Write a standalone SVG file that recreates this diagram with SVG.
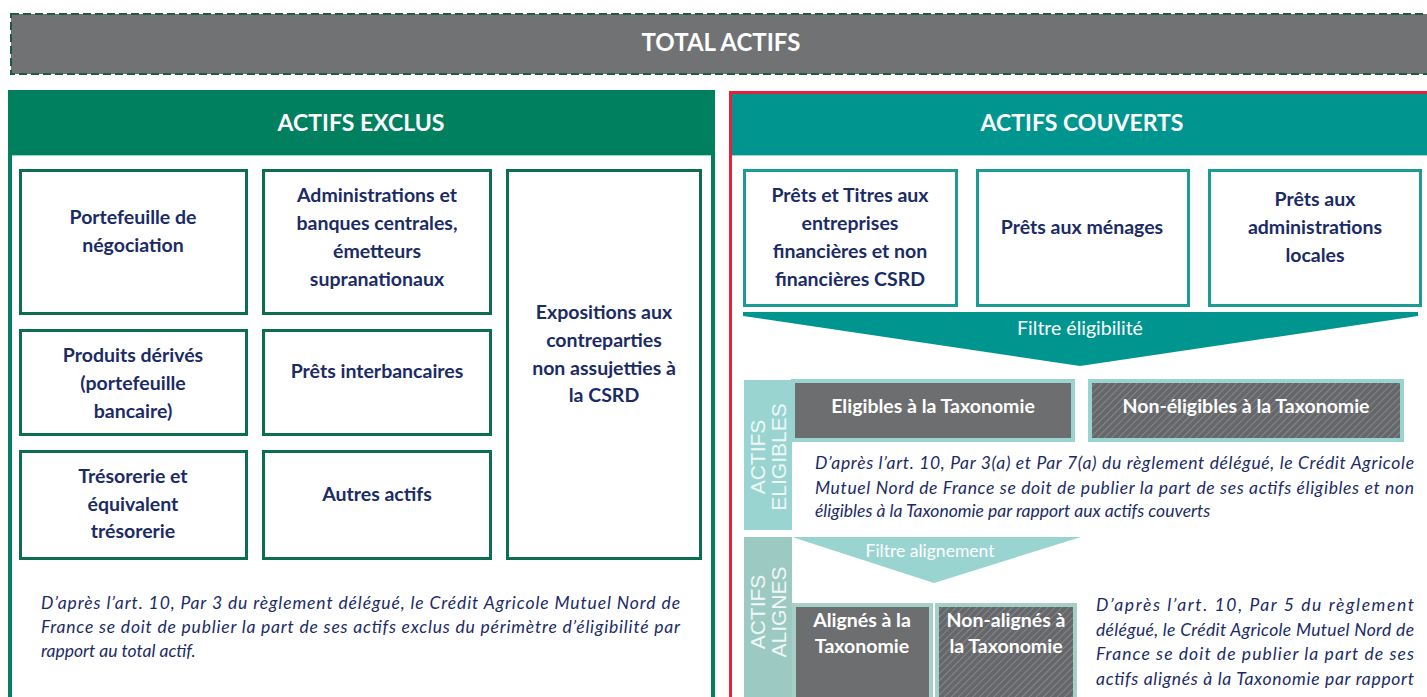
<svg xmlns="http://www.w3.org/2000/svg" width="1427" height="697" viewBox="0 0 1427 697">
<defs>
<pattern id="hatch" patternUnits="userSpaceOnUse" width="5" height="5" patternTransform="rotate(-45)">
<rect width="5" height="5" fill="#66676a"/>
<line x1="0" y1="0.5" x2="5" y2="0.5" stroke="#85868a" stroke-width="1"/>
</pattern>
<style>
.box{fill:#fff;stroke:#0d6d50;stroke-width:3}
.tbox{fill:#fff;stroke:#1a9c95;stroke-width:3}
.bt{font-family:Lato,'Liberation Sans',sans-serif;font-weight:bold;font-size:19.5px;fill:#1b2b66;text-anchor:middle}
.hd{font-family:Lato,'Liberation Sans',sans-serif;font-weight:bold;font-size:23px;fill:#fff;text-anchor:middle}
.wt{font-family:Lato,'Liberation Sans',sans-serif;font-weight:bold;font-size:19.5px;fill:#fff;text-anchor:middle}
.it{font-family:Lato,'Liberation Sans',sans-serif;font-style:italic;font-size:17.5px;fill:#1b2b66}
.vt{font-family:'Liberation Sans',Arial,sans-serif;font-size:21px;fill:#eef8f7;text-anchor:middle}
.ft{font-family:Lato,'Liberation Sans',sans-serif;font-size:19.5px;fill:#fff;text-anchor:middle}
</style>
</defs>
<rect width="1427" height="697" fill="#fff"/>

<g id="total">
<rect x="11" y="14" width="1430" height="60" fill="#717274" stroke="#1d5b41" stroke-width="2" stroke-dasharray="8,4"/>
<text class="hd" x="721" y="51" style="font-size:24px">TOTAL ACTIFS</text>
</g>

<g id="exclus">
<rect x="10" y="92" width="703" height="620" fill="#fff" stroke="#00805f" stroke-width="4"/>
<rect x="10" y="91" width="703" height="64" fill="#00805f"/>
<line x1="12" y1="155.5" x2="711" y2="155.5" stroke="#9fd3c4" stroke-width="1"/>
<text class="hd" x="361" y="131">ACTIFS EXCLUS</text>
</g>

<g id="portefeuille"><rect class="box" x="20.5" y="170.5" width="226" height="143"/>
<text class="bt" x="133" y="224">Portefeuille de</text><text class="bt" x="133" y="252">négociation</text></g>
<g id="administrations"><rect class="box" x="263.5" y="170.5" width="227" height="143"/>
<text class="bt" x="377" y="202">Administrations et</text><text class="bt" x="377" y="230">banques centrales,</text><text class="bt" x="377" y="258">émetteurs</text><text class="bt" x="377" y="286">supranationaux</text></g>
<g id="expositions"><rect class="box" x="507.5" y="170.5" width="193" height="388"/>
<text class="bt" x="604" y="319">Expositions aux</text><text class="bt" x="604" y="347">contreparties</text><text class="bt" x="604" y="375">non assujetties à</text><text class="bt" x="604" y="402">la CSRD</text></g>
<g id="derives"><rect class="box" x="20.5" y="330.5" width="226" height="104"/>
<text class="bt" x="133" y="362">Produits dérivés</text><text class="bt" x="133" y="390">(portefeuille</text><text class="bt" x="133" y="418">bancaire)</text></g>
<g id="interbancaires"><rect class="box" x="263.5" y="330.5" width="227" height="104"/>
<text class="bt" x="377" y="378">Prêts interbancaires</text></g>
<g id="tresorerie"><rect class="box" x="20.5" y="451.5" width="226" height="107"/>
<text class="bt" x="133" y="483">Trésorerie et</text><text class="bt" x="133" y="511">équivalent</text><text class="bt" x="133" y="538">trésorerie</text></g>
<g id="autres"><rect class="box" x="263.5" y="451.5" width="227" height="107"/>
<text class="bt" x="377" y="501">Autres actifs</text></g>

<g id="note-exclus">
<text class="it" x="41" y="609" textLength="639" lengthAdjust="spacing">D’après l’art. 10, Par 3 du règlement délégué, le Crédit Agricole Mutuel Nord de</text>
<text class="it" x="41" y="633" textLength="639" lengthAdjust="spacing">France se doit de publier la part de ses actifs exclus du périmètre d’éligibilité par</text>
<text class="it" x="41" y="657">rapport au total actif.</text>
</g>

<g id="couverts">
<rect x="730.5" y="92.5" width="710" height="620" fill="#fff" stroke="#e8203a" stroke-width="3"/>
<rect x="732" y="94" width="700" height="61" fill="#00968f"/>
<line x1="732" y1="155.5" x2="1427" y2="155.5" stroke="#9fd6d2" stroke-width="1"/>
<text class="hd" x="1082" y="131">ACTIFS COUVERTS</text>
</g>

<g id="prets-entreprises"><rect class="tbox" x="744.5" y="170.5" width="212" height="135"/>
<text class="bt" x="850" y="202">Prêts et Titres aux</text><text class="bt" x="850" y="230">entreprises</text><text class="bt" x="850" y="258">financières et non</text><text class="bt" x="850" y="286">financières CSRD</text></g>
<g id="prets-menages"><rect class="tbox" x="977.5" y="170.5" width="211" height="135"/>
<text class="bt" x="1082" y="234">Prêts aux ménages</text></g>
<g id="prets-admin"><rect class="tbox" x="1209.5" y="170.5" width="211" height="135"/>
<text class="bt" x="1315" y="206">Prêts aux</text><text class="bt" x="1315" y="234">administrations</text><text class="bt" x="1315" y="262">locales</text></g>

<g id="filtre-eligibilite">
<polygon points="743,312 1418,312 1418,316 1080,366 743,316" fill="#00968f"/>
<text class="ft" x="1080" y="335">Filtre éligibilité</text>
</g>

<g id="actifs-eligibles">
<rect x="744" y="380" width="48" height="150" fill="#9ad4d1"/>
<text class="vt" transform="translate(765,457) rotate(-90)">ACTIFS</text>
<text class="vt" transform="translate(786,457) rotate(-90)">ELIGIBLES</text>
</g>

<g id="eligibles"><rect x="793" y="381" width="280" height="59" fill="#6d6e70" stroke="#9ad4d1" stroke-width="4"/>
<text class="wt" x="933" y="413">Eligibles à la Taxonomie</text></g>
<g id="non-eligibles"><rect x="1090" y="381" width="312" height="59" fill="url(#hatch)" stroke="#9ad4d1" stroke-width="4"/>
<text class="wt" x="1246" y="413">Non-éligibles à la Taxonomie</text></g>

<g id="note-eligibles">
<text class="it" x="815" y="469" textLength="599" lengthAdjust="spacing">D’après l’art. 10, Par 3(a) et Par 7(a) du règlement délégué, le Crédit Agricole</text>
<text class="it" x="815" y="494" textLength="599" lengthAdjust="spacing">Mutuel Nord de France se doit de publier la part de ses actifs éligibles et non</text>
<text class="it" x="815" y="517">éligibles à la Taxonomie par rapport aux actifs couverts</text>
</g>

<g id="actifs-alignes">
<rect x="744" y="537" width="48" height="170" fill="#9cc9c2"/>
<text class="vt" transform="translate(765,612) rotate(-90)">ACTIFS</text>
<text class="vt" transform="translate(786,612) rotate(-90)">ALIGNES</text>
</g>

<g id="filtre-alignement">
<polygon points="792,537 1081,537 934,583" fill="#9ad4d1"/>
<text class="ft" x="930" y="557" style="font-size:17.5px">Filtre alignement</text>
</g>

<g id="alignes"><rect x="794" y="605" width="137" height="100" fill="#6d6e70" stroke="#a6cfc8" stroke-width="4"/>
<text class="wt" x="862" y="627">Alignés à la</text><text class="wt" x="862" y="653">Taxonomie</text></g>
<g id="non-alignes"><rect x="937" y="605" width="138" height="100" fill="url(#hatch)" stroke="#a6cfc8" stroke-width="4"/>
<text class="wt" x="1006" y="627">Non-alignés à</text><text class="wt" x="1006" y="653">la Taxonomie</text></g>

<g id="note-alignes">
<text class="it" x="1096" y="611" textLength="318" lengthAdjust="spacing">D’après l’art. 10, Par 5 du règlement</text>
<text class="it" x="1096" y="636" textLength="318" lengthAdjust="spacing">délégué, le Crédit Agricole Mutuel Nord de</text>
<text class="it" x="1096" y="660" textLength="318" lengthAdjust="spacing">France se doit de publier la part de ses</text>
<text class="it" x="1096" y="685" textLength="318" lengthAdjust="spacing">actifs alignés à la Taxonomie par rapport</text>
</g>

<g id="connectors"></g>
</svg>
